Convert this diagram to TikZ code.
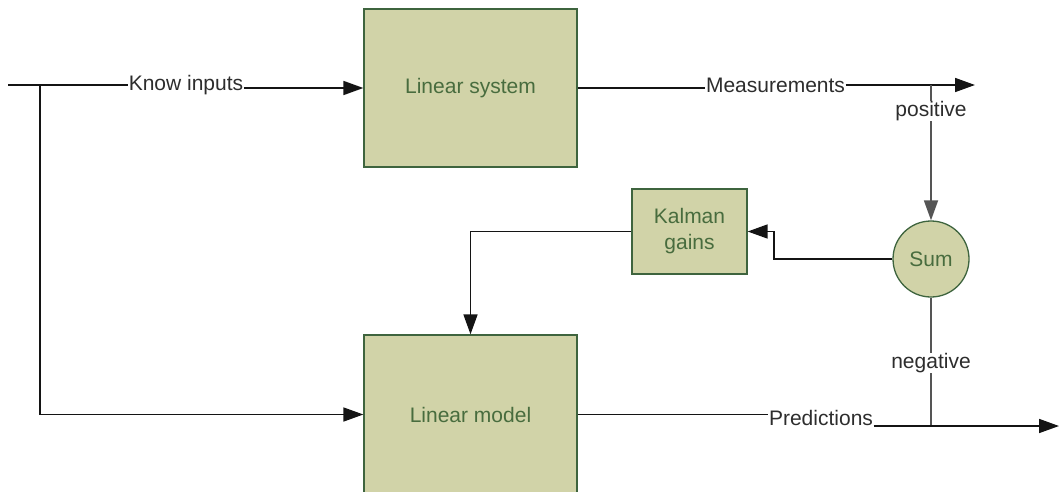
\documentclass[tikz,border=0pt]{standalone}
\usepackage{fontspec}
\setmainfont{Liberation Sans}
\usetikzlibrary{arrows.meta}
\definecolor{boxfill}{RGB}{209,211,168}
\definecolor{boxdraw}{RGB}{62,100,62}
\definecolor{boxtext}{RGB}{72,108,62}
\definecolor{lbl}{RGB}{45,45,45}
\definecolor{wire}{RGB}{20,20,20}
\definecolor{gwire}{RGB}{85,85,85}
\tikzset{
  blk/.style={draw=boxdraw, fill=boxfill, line width=1.3pt, text=boxtext,
    font=\fontsize{21}{26}\selectfont, align=center, inner sep=0pt},
  lab/.style={text=lbl, font=\fontsize{21}{24}\selectfont, inner sep=0.5pt},
  wr/.style={draw=wire, line width=1.7pt},
  gw/.style={draw=gwire, line width=1.7pt},
  arr/.style={wr, -{Triangle[length=20pt,width=14pt]}},
  garr/.style={gw, -{Triangle[length=20pt,width=14pt]}}
}
\begin{document}
\begin{tikzpicture}[x=1pt,y=-1pt]
\useasboundingbox (0,0) rectangle (1059,492);
\clip (0,0) rectangle (1059,492);
% blocks
\node[blk, minimum width=213pt, minimum height=158pt] (sys) at (470.5,88) {Linear system};
\node[blk, minimum width=213pt, minimum height=159pt] (model) at (470.5,414.5) {Linear model};
\node[blk, minimum width=115pt, minimum height=85pt] (kal) at (689.5,231.5) {Kalman\\gains};
\node[blk, circle, minimum size=76pt] (sum) at (931,259) {Sum};
% labels
\node[lab] (kin) at (186,85) {Know inputs};
\node[lab] (meas) at (775.5,85) {Measurements};
\node[lab] (pos) at (931,111) {positive};
\node[lab] (neg) at (931,363) {negative};
\node[lab] (pred) at (821,418) {Predictions};
% free ends and junctions
\coordinate (in0) at (8,85);
\coordinate (j1) at (40,85);
\coordinate (j2) at (931,85);
\coordinate (out1) at (975,85);
\coordinate (j3) at (931,426);
\coordinate (out2) at (1059,426);
\coordinate (bend) at (774,259);
% connectors
\draw[wr] (in0) -- (kin.west);
\draw[arr] (kin.east |- sys.west) -- (sys.west);
\draw[arr] (j1) |- (model.west);
\draw[wr] (sys.east) -- (sys.east -| meas.west);
\draw[arr] (meas.east) -- (out1);
\draw[gw] (j2) -- (pos.north);
\draw[garr] (pos.south) -- (sum.north);
\draw[arr] (sum.west) -- (bend) |- (kal.east);
\draw[arr] (kal.west) -| (model.north);
\draw[gw] (sum.south) -- (neg.north);
\draw[gw] (neg.south) -- (j3);
\draw[wr] (model.east) -- (model.east -| pred.west);
\draw[arr] (pred.east |- j3) -- (out2);
\end{tikzpicture}
\end{document}
